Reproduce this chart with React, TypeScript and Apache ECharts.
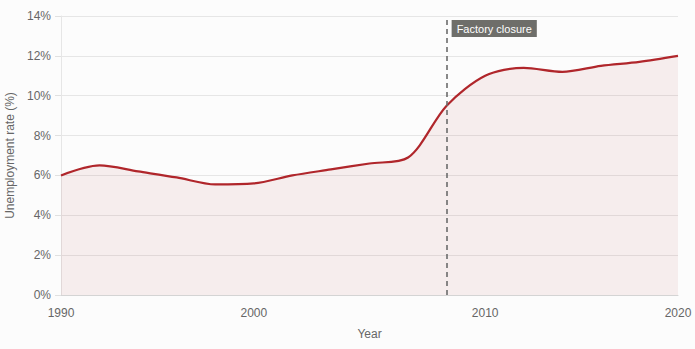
import React, { useEffect, useRef } from "react";
import * as echarts from "echarts";

const years = ["1990", "1992", "1994", "1996", "1998", "2000", "2002", "2004", "2006", "2007", "2008", "2010", "2012", "2014", "2016", "2018", "2020"];
const rates = [6.0, 6.5, 6.2, 5.9, 5.55, 5.6, 6.0, 6.3, 6.6, 6.9, 9.5, 11.0, 11.4, 11.2, 11.5, 11.7, 12.0];
const eventYear = "2008";
const eventLabel = "Factory closure";
const xLabelYears = ["1990", "2000", "2010", "2020"];
const yTicks = [0, 2, 4, 6, 8, 10, 12, 14];

const FONT = "'Liberation Sans', Arial, Helvetica, sans-serif";

export default function App() {
  const ref = useRef<HTMLDivElement>(null);
  useEffect(() => {
    document.body.style.margin = "0";
    document.body.style.background = "#fcfcfc";
    const chart = echarts.init(ref.current!, null, { renderer: "svg" });
    const option: any = {
      animation: false,
      backgroundColor: "#fcfcfc",
      textStyle: { fontFamily: FONT },
      grid: { left: 61, right: 17, top: 16, bottom: 54, containLabel: false, outerBoundsMode: "none" },
      xAxis: {
        type: "category",
        data: years,
        boundaryGap: false,
        name: "Year",
        nameLocation: "middle",
        nameGap: 33,
        nameTextStyle: { color: "#666", fontSize: 12, fontFamily: FONT },
        axisLine: { show: true, lineStyle: { color: "#d4d4d4" } },
        axisTick: { show: false },
        axisLabel: {
          color: "#666",
          fontSize: 12,
          margin: 12,
          fontFamily: FONT,
          interval: (_i: number, v: string) => xLabelYears.indexOf(v) >= 0,
        },
        splitLine: { show: false },
      },
      yAxis: {
        type: "value",
        min: yTicks[0],
        max: yTicks[yTicks.length - 1],
        interval: 2,
        name: "Unemployment rate (%)",
        nameLocation: "middle",
        nameGap: 45,
        nameTextStyle: { color: "#666", fontSize: 12, fontFamily: FONT },
        axisLine: { show: true, lineStyle: { color: "#e6e6e6" } },
        axisTick: { show: true, length: 6, lineStyle: { color: "#e0e0e0" } },
        axisLabel: { color: "#666", fontSize: 12, margin: 10, fontFamily: FONT, formatter: (v: number) => v + "%" },
        splitLine: { show: true, lineStyle: { color: "#e6e6e6", width: 1 } },
      },
      series: [
        {
          type: "line",
          data: rates,
          smooth: 0.3,
          showSymbol: false,
          lineStyle: { color: "#b0262b", width: 2.2 },
          itemStyle: { color: "#b0262b" },
          areaStyle: { color: "rgba(176,38,43,0.1)" },
          markLine: {
            silent: true,
            symbol: ["none", "none"],
            label: { show: false },
            lineStyle: { color: "#6b6b6b", width: 1.6, type: [5, 4] },
            data: [{ xAxis: eventYear }],
          },
        },
      ],
    };
    chart.setOption(option);
    const px = chart.convertToPixel({ xAxisIndex: 0 }, eventYear) as number;
    const py = chart.convertToPixel({ yAxisIndex: 0 }, yTicks[yTicks.length - 1]) as number;
    chart.setOption({
      graphic: [
        {
          type: "text",
          x: px + 5,
          y: py + 4,
          style: {
            text: eventLabel,
            fill: "#fff",
            fontSize: 11,
            fontFamily: FONT,
            backgroundColor: "#6e6e6a",
            padding: [3, 5, 3, 5],
          },
        },
      ],
    });
    return () => chart.dispose();
  }, []);
  return <div ref={ref} style={{ position: "absolute", left: 0, top: 0, width: 695, height: 349 }} />;
}
